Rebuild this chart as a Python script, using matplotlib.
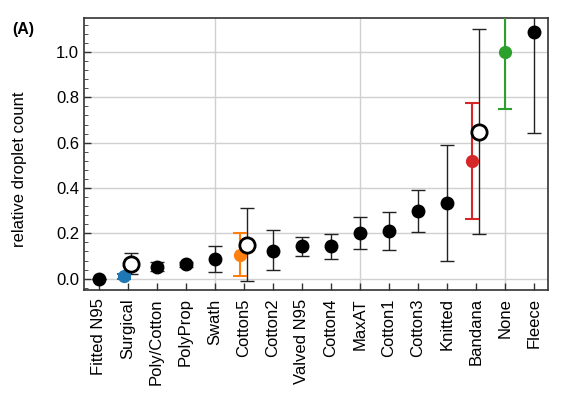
import numpy as np
import matplotlib
matplotlib.use("Agg")
import matplotlib.pyplot as plt
from matplotlib.ticker import MultipleLocator

plt.rcParams['font.family'] = ['Liberation Sans', 'DejaVu Sans']

# categories on the x axis
masks = ["Fitted N95", "Surgical", "Poly/Cotton", "PolyProp", "Swath", "Cotton5",
         "Cotton2", "Valved N95", "Cotton4", "MaxAT", "Cotton1", "Cotton3",
         "Knitted", "Bandana", "None", "Fleece"]

# main (black) series: value, lower, upper
mean_main = [0.0, 0.065, 0.053, 0.063, 0.087, 0.15, 0.124, 0.142, 0.142, 0.20,
             0.21, 0.30, 0.335, 0.648, 1.0, 1.09]
low_main = [0.0, 0.022, 0.032, 0.052, 0.028, -0.012, 0.037, 0.098, 0.088, 0.131,
            0.125, 0.206, 0.08, 0.197, 0.748, 0.642]
high_main = [0.0, 0.113, 0.075, 0.075, 0.142, 0.312, 0.215, 0.185, 0.198, 0.27,
             0.294, 0.39, 0.588, 1.10, 1.25, 1.54]
# which of the main points are drawn as open circles
open_pts = ["Surgical", "Cotton5", "Bandana"]

# coloured repeat measurements
col_names = ["Surgical", "Cotton5", "Bandana", "None"]
col_mean = [0.01, 0.105, 0.52, 1.0]
col_low = [0.0, 0.012, 0.264, 0.748]
col_high = [0.02, 0.203, 0.777, 1.252]
col_colors = ["#1f77b4", "#ff7f0e", "#d62728", "#2ca02c"]

fig = plt.figure(figsize=(5.64, 4.0), dpi=100)
ax = fig.add_axes([0.149, 0.275, 0.823, 0.68])

x = np.arange(len(masks))
mean_main = np.array(mean_main)
err_lo = mean_main - np.array(low_main)
err_hi = np.array(high_main) - mean_main

for i, name in enumerate(masks):
    if name == "None":
        continue
    xi = i + 0.12 if name in open_pts else i
    ax.errorbar(xi, mean_main[i], yerr=[[err_lo[i]], [err_hi[i]]], fmt='none',
                ecolor='#222222', elinewidth=1, capsize=5, capthick=1, zorder=3)
    if name in open_pts:
        ax.plot(xi, mean_main[i], 'o', mfc='white', mec='black', mew=2, ms=11, zorder=5)
    else:
        ax.plot(xi, mean_main[i], 'o', color='black', ms=9, zorder=5)

for name, m, lo, hi, c in zip(col_names, col_mean, col_low, col_high, col_colors):
    i = masks.index(name)
    xi = i if name == "None" else i - 0.12
    ax.errorbar(xi, m, yerr=[[m - lo], [hi - m]], fmt='o', color=c, ms=8.5,
                ecolor=c, elinewidth=1.5, capsize=5, capthick=1.5, zorder=4)

ax.set_xlim(-0.5, 15.5)
ax.set_xticks(x)
ax.set_xticklabels(masks, rotation=90, fontsize=12)
ax.yaxis.set_minor_locator(MultipleLocator(0.04))
ax.set_ylim(-0.05, 1.15)
ax.set_yticks(np.arange(0, 1.01, 0.2))
ax.set_yticklabels([f"{v:.1f}" for v in np.arange(0, 1.01, 0.2)], fontsize=12)
ax.tick_params(direction='in', length=5, width=1, color='#333333')
ax.tick_params(which='minor', direction='in', length=3, color='#333333')
ax.tick_params(axis='x', pad=6)

ax.grid(axis='y', which='major', color='#d0d0d0', linewidth=1, zorder=0)
for gx in [4, 9, 14]:
    ax.axvline(gx, color='#d0d0d0', linewidth=1, zorder=0)
ax.set_axisbelow(True)

for s in ax.spines.values():
    s.set_color('#333333')
    s.set_linewidth(1.2)

ax.set_ylabel("relative droplet count", fontsize=12)
ax.yaxis.set_label_coords(-0.123, 0.445)
fig.text(0.022, 0.915, "(A)", fontsize=11.5, fontweight='bold')

fig.savefig("out.png", dpi=100)
